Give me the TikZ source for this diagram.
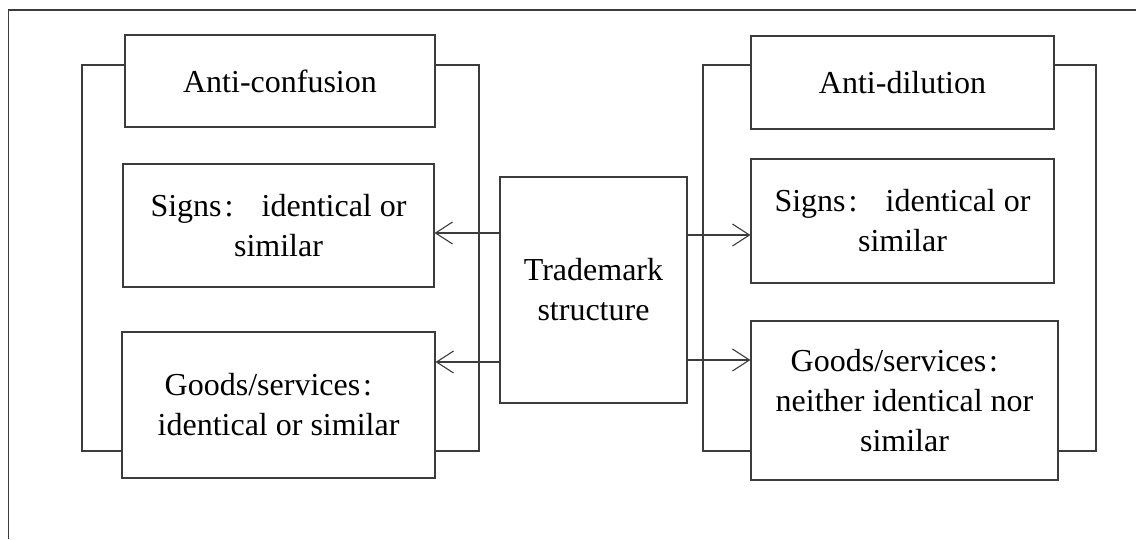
\documentclass[tikz,border=0pt]{standalone}
\usepackage{fontspec}
\setmainfont{Liberation Serif}
\usetikzlibrary{arrows.meta}
\definecolor{ink}{RGB}{60,60,60}
% full-width colon: a serif colon set in a one-em box
\newcommand{\fwcolon}{\makebox[1em][l]{\hspace{3pt}:}}
\tikzset{
  box/.style={draw=ink, line width=1.1pt, rectangle, align=center, inner sep=0pt,
    font=\fontsize{32}{40}\selectfont},
  link/.style={draw=ink, line width=1.1pt},
  arr/.style={link, -{Straight Barb[length=17pt,width=22pt,line width=1.1pt]}}
}
\begin{document}
\begin{tikzpicture}[x=1pt,y=-1pt]
  \useasboundingbox (0,0) rectangle (1136,539);
  % outer frame
  \draw[link] (8.7,539) -- (8.7,10) -- (1136,10);

  % left column
  \node[box, minimum width=310pt, minimum height=92pt]  (conf)  at (280,81)    {Anti-confusion};
  \node[box, minimum width=311pt, minimum height=123pt] (lsign) at (278.5,225.5) {Signs\fwcolon\ identical or\\similar};
  \node[box, minimum width=313pt, minimum height=146pt] (lgood) at (278.5,405) {Goods/services\fwcolon\\ identical or similar};

  % centre
  \node[box, minimum width=187pt, minimum height=226pt] (tm) at (593.5,290) {Trademark\\structure};

  % right column
  \node[box, minimum width=303pt, minimum height=93pt]  (dil)   at (902.5,82.5) {Anti-dilution};
  \node[box, minimum width=303pt, minimum height=124pt] (rsign) at (902.5,221)  {Signs\fwcolon\ identical or\\similar};
  \node[box, minimum width=307pt, minimum height=159pt] (rgood) at (904.5,400.5) {Goods/services\fwcolon\\neither identical nor\\similar};

  % bracket corners
  \coordinate (lA) at (82,65);   \coordinate (lB) at (82,451);
  \coordinate (lC) at (479,65);  \coordinate (lD) at (479,451);
  \coordinate (rA) at (703,65);  \coordinate (rB) at (703,451);
  \coordinate (rC) at (1096,65); \coordinate (rD) at (1096,451);

  % brackets
  \draw[link] (conf.west |- lA) -- (lA) -- (lB) -- (lgood.west |- lB);
  \draw[link] (conf.east |- lC) -- (lC) -- (lD) -- (lgood.east |- lD);
  \draw[link] (dil.west |- rA) -- (rA) -- (rB) -- (rgood.west |- rB);
  \draw[link] (dil.east |- rC) -- (rC) -- (rD) -- (rgood.east |- rD);

  % arrows from the centre
  \coordinate (y1) at (0,233);  \coordinate (y2) at (0,362);
  \coordinate (y3) at (0,235);  \coordinate (y4) at (0,360);
  \draw[arr] (tm.west |- y1) -- (lsign.east |- y1);
  \draw[arr] (tm.west |- y2) -- (lgood.east |- y2);
  \draw[arr] (tm.east |- y3) -- (rsign.west |- y3);
  \draw[arr] (tm.east |- y4) -- (rgood.west |- y4);
\end{tikzpicture}
\end{document}
